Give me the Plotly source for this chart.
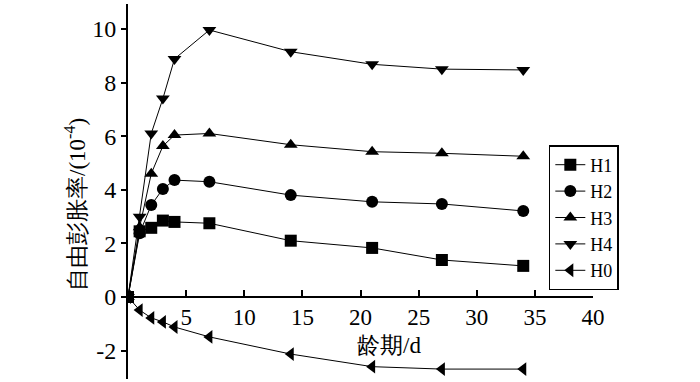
import plotly.graph_objects as go

days = [0, 1, 2, 3, 4, 7, 14, 21, 27, 34]
H1 = [0, 2.45, 2.58, 2.85, 2.8, 2.75, 2.1, 1.83, 1.38, 1.16]
H2 = [0, 2.38, 3.43, 4.03, 4.36, 4.3, 3.8, 3.55, 3.47, 3.21]
H3 = [0, 2.6, 4.6, 5.63, 6.04, 6.1, 5.68, 5.42, 5.36, 5.25]
H4 = [0, 2.99, 6.1, 7.4, 8.88, 9.96, 9.15, 8.68, 8.5, 8.47]
H0 = [0, -0.49, -0.78, -0.93, -1.12, -1.49, -2.13, -2.6, -2.69, -2.69]

series = [("H1", H1, "square"), ("H2", H2, "circle"), ("H3", H3, "triangle-up"),
          ("H4", H4, "triangle-down"), ("H0", H0, "triangle-left")]

x_ticks = [5, 10, 15, 20, 25, 30, 35, 40]
y_ticks = [-2, 0, 2, 4, 6, 8, 10]
y_ticklabels = ["-2", "0", "2", "4", "6", "8", "10"]

FONT = '"Times New Roman", "Liberation Serif", serif'
YMIN, YMAX = -3.06, 10.93

fig = go.Figure()
for name, vals, sym in series:
    fig.add_trace(go.Scatter(
        x=days, y=vals, name=name, mode="lines+markers",
        line=dict(color="black", width=1),
        marker=dict(symbol=sym, size=12, color="black"),
    ))

fig.update_layout(
    width=700, height=382,
    margin=dict(l=128, r=107, t=4, b=3),
    paper_bgcolor="white", plot_bgcolor="white",
    font=dict(family=FONT, size=22, color="black"),
    showlegend=True,
    legend=dict(
        x=0.905, y=0.624, xanchor="left", yanchor="top",
        bordercolor="black", borderwidth=1.5, bgcolor="white",
        font=dict(family=FONT, size=18), tracegroupgap=0,
        itemwidth=30,
    ),
    xaxis=dict(
        range=[0, 40], tickvals=x_ticks, showgrid=False, zeroline=False,
        showline=True, linecolor="black", linewidth=1.5,
        ticks="inside", ticklen=6, tickwidth=1.5, tickcolor="black",
        anchor="free", position=(0 - YMIN) / (YMAX - YMIN),
        tickfont=dict(family=FONT, size=23),
    ),
    yaxis=dict(
        range=[YMIN, YMAX], tickvals=y_ticks, ticktext=y_ticklabels,
        showgrid=False, zeroline=False,
        showline=True, linecolor="black", linewidth=2,
        ticks="outside", ticklen=5, tickwidth=1.5, tickcolor="black",
        tickfont=dict(family=FONT, size=24),
    ),
    annotations=[
        dict(text="龄期/d", x=(389 - 128) / 465, y=(379 - 345) / 375,
             xref="paper", yref="paper", showarrow=False,
             xanchor="center", yanchor="middle",
             font=dict(family=FONT, size=23)),
        dict(text="自由彭胀率/(10<sup>-4</sup>)", x=(75 - 128) / 465, y=(379 - 205) / 375,
             xref="paper", yref="paper", showarrow=False, textangle=-90,
             xanchor="center", yanchor="middle",
             font=dict(family=FONT, size=23)),
    ],
)

fig.write_html("out.html", config={"displayModeBar": False},
               post_script="document.body.style.margin='0';")
